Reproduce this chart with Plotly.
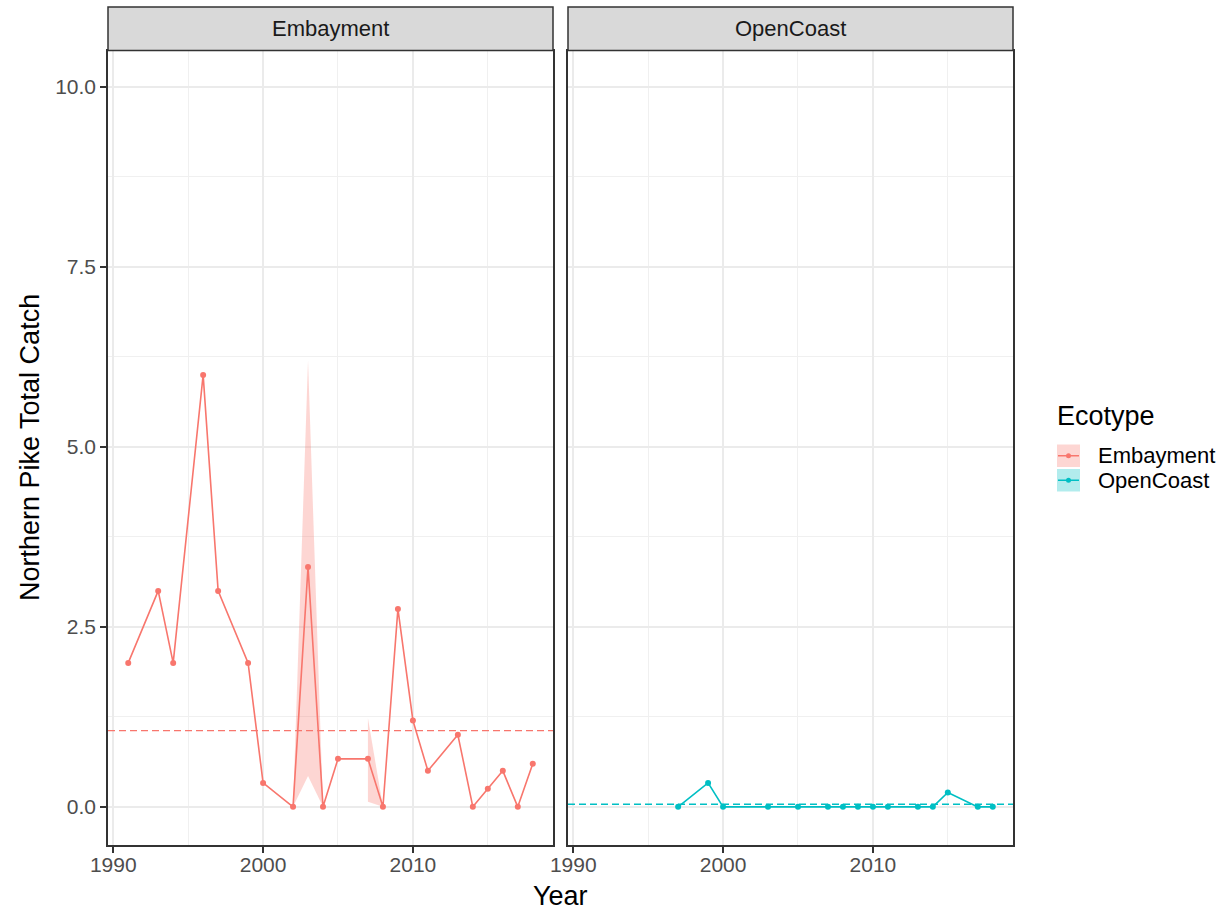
import plotly.graph_objects as go

# Northern pike catch by ecotype
emb_years = [1991, 1993, 1994, 1996, 1997, 1999, 2000, 2002, 2003, 2004, 2005,
             2007, 2008, 2009, 2010, 2011, 2013, 2014, 2015, 2016, 2017, 2018]
emb_catch = [2.0, 3.0, 2.0, 6.0, 3.0, 2.0, 0.333, 0.0, 3.333, 0.0, 0.667,
             0.667, 0.0, 2.75, 1.2, 0.5, 1.0, 0.0, 0.25, 0.5, 0.0, 0.6]

# ribbon only exists where there is spread (gaps break it)
emb_band_years = [2002, 2003, 2004, 2007, 2008]
emb_band_lo = [0.0, 0.43, 0.0, 0.07, 0.0]
emb_band_hi = [0.0, 6.2, 0.0, 1.23, 0.0]

oc_years = [1997, 1999, 2000, 2003, 2005, 2007, 2008, 2009, 2010, 2011,
            2013, 2014, 2015, 2017, 2018]
oc_catch = [0.0, 0.333, 0.0, 0.0, 0.0, 0.0, 0.0, 0.0, 0.0, 0.0,
            0.0, 0.0, 0.2, 0.0, 0.0]

emb_mean = 1.06
oc_mean = 0.036

ecotypes = ["Embayment", "OpenCoast"]
colors = {"Embayment": "#F8766D", "OpenCoast": "#00BFC4"}
fills = {"Embayment": "rgba(248,118,109,0.3)", "OpenCoast": "rgba(0,191,196,0.3)"}

W, H = 1230, 913
FONT = "Liberation Sans, Arial, sans-serif"


def px_x(p):
    return p / W


def px_y(p):
    return 1 - p / H


def band_segments(years):
    """Split ribbon into contiguous runs of years."""
    segs, cur = [], [0]
    for i in range(1, len(years)):
        if years[i] - years[i - 1] > 1:
            segs.append(cur)
            cur = []
        cur.append(i)
    segs.append(cur)
    return segs


fig = go.Figure()

for idx in band_segments(emb_band_years):
    xs = [emb_band_years[i] for i in idx]
    fig.add_trace(go.Scatter(
        x=xs + xs[::-1],
        y=[emb_band_hi[i] for i in idx] + [emb_band_lo[i] for i in idx][::-1],
        fill="toself", fillcolor=fills["Embayment"], line=dict(width=0),
        mode="lines", showlegend=False, hoverinfo="skip", xaxis="x", yaxis="y"))

series = [("Embayment", emb_years, emb_catch, "x", "y"),
          ("OpenCoast", oc_years, oc_catch, "x2", "y2")]
for name, xs, ys, xa, ya in series:
    fig.add_trace(go.Scatter(
        x=xs, y=ys, mode="lines+markers", name=name,
        line=dict(color=colors[name], width=1.6),
        marker=dict(color=colors[name], size=6),
        showlegend=False, xaxis=xa, yaxis=ya))

# mean lines
for name, mean, xa, ya in [("Embayment", emb_mean, "x", "y"),
                           ("OpenCoast", oc_mean, "x2", "y2")]:
    fig.add_shape(type="line", xref=f"{xa} domain", yref=ya,
                  x0=0, x1=1, y0=mean, y1=mean,
                  line=dict(color=colors[name], width=1.3, dash="7px,4px"))

grid_major = "#EBEBEB"
xdom = [[px_x(108), px_x(553)], [px_x(568), px_x(1013)]]
ydom = [px_y(845), px_y(51)]
xrange_ = [1989.65, 2019.35]
yrange_ = [-0.53, 10.5]
tickfont = dict(family=FONT, size=21, color="#4D4D4D")

common_x = dict(
    range=xrange_, tick0=1990, dtick=10, showgrid=True, gridcolor=grid_major,
    gridwidth=1.8, showline=True, linecolor="#333333", linewidth=1.5, mirror=True,
    ticks="outside", ticklen=6, tickwidth=1.6, tickcolor="#333333",
    tickfont=tickfont, ticklabelstandoff=-6, zeroline=False,
    minor=dict(dtick=5, tick0=1990, showgrid=True, gridcolor="#F0F0F0", gridwidth=1.1),
    automargin=False, fixedrange=True)
common_y = dict(
    range=yrange_, tick0=0, dtick=2.5, tickformat=".1f", showgrid=True,
    gridcolor=grid_major, gridwidth=1.8, showline=True, linecolor="#333333",
    linewidth=1.5, mirror=True, zeroline=False,
    minor=dict(dtick=1.25, tick0=0, showgrid=True, gridcolor="#F0F0F0", gridwidth=1.1),
    automargin=False, fixedrange=True)

fig.update_layout(
    width=W, height=H, margin=dict(l=0, r=0, t=0, b=0),
    paper_bgcolor="white", plot_bgcolor="white", showlegend=False,
    font=dict(family=FONT, color="black"),
    xaxis=dict(domain=xdom[0], anchor="y", **common_x),
    xaxis2=dict(domain=xdom[1], anchor="y2", **common_x),
    yaxis=dict(domain=ydom, anchor="x", ticks="outside", ticklen=6, tickwidth=1.6,
               tickcolor="#333333", tickfont=tickfont, **common_y),
    yaxis2=dict(domain=ydom, anchor="x2", showticklabels=False, ticks="", **common_y),
)

# facet strips
for i, name in enumerate(ecotypes):
    xa = "x" if i == 0 else "x2"
    fig.add_shape(type="rect", xref=f"{xa} domain", yref="paper",
                  x0=0, x1=1, y0=px_y(50.5), y1=px_y(7),
                  fillcolor="#D9D9D9", line=dict(color="#333333", width=1.5))
    fig.add_annotation(text=name, xref=f"{xa} domain", yref="paper",
                       x=0.5, y=px_y(29), xanchor="center", yanchor="middle",
                       showarrow=False,
                       font=dict(family=FONT, size=22, color="#1A1A1A"))

# axis titles
fig.add_annotation(text="Year", xref="paper", yref="paper",
                   x=px_x(560.5), y=px_y(896), xanchor="center", yanchor="middle",
                   showarrow=False, font=dict(family=FONT, size=27, color="black"))
fig.add_annotation(text="Northern Pike Total Catch", xref="paper", yref="paper",
                   x=px_x(30), y=px_y(448), xanchor="center", yanchor="middle",
                   showarrow=False, textangle=-90,
                   font=dict(family=FONT, size=27, color="black"))

# legend drawn by hand so keys show ribbon + line + point
fig.add_annotation(text="Ecotype", xref="paper", yref="paper",
                   x=px_x(1055), y=px_y(416), xanchor="left", yanchor="middle",
                   showarrow=False, font=dict(family=FONT, size=27, color="black"))
key_tops = [444.5, 469]
for name, top in zip(ecotypes, key_tops):
    x0, x1 = 1057, 1080
    y0, y1 = top, top + 22.5
    ym = (y0 + y1) / 2
    fig.add_shape(type="rect", xref="paper", yref="paper",
                  x0=px_x(x0), x1=px_x(x1), y0=px_y(y1), y1=px_y(y0),
                  fillcolor=fills[name], line=dict(width=0))
    fig.add_shape(type="line", xref="paper", yref="paper",
                  x0=px_x(x0 + 1), x1=px_x(x1 - 1), y0=px_y(ym), y1=px_y(ym),
                  line=dict(color=colors[name], width=1.5))
    fig.add_shape(type="circle", xref="paper", yref="paper",
                  x0=px_x(x0 + 9), x1=px_x(x0 + 14), y0=px_y(ym + 2.5), y1=px_y(ym - 2.5),
                  fillcolor=colors[name], line=dict(width=0))
    fig.add_annotation(text=name, xref="paper", yref="paper",
                       x=px_x(1096), y=px_y(ym), xanchor="left", yanchor="middle",
                       showarrow=False,
                       font=dict(family=FONT, size=22, color="black"))

# drop the default 8px body margin so the figure fills the window exactly
fig.write_html("out.html", config={"displayModeBar": False},
               post_script="document.body.style.margin='0px';"
                           "document.body.style.overflow='hidden';")
